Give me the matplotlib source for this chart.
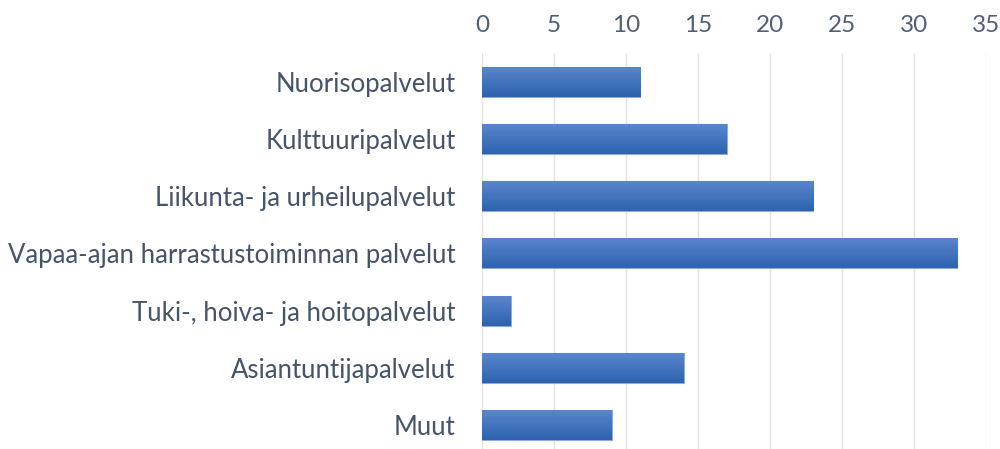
import numpy as np
import matplotlib
matplotlib.use("Agg")
import matplotlib.pyplot as plt
from matplotlib.colors import LinearSegmentedColormap

categories = [
    "Nuorisopalvelut",
    "Kulttuuripalvelut",
    "Liikunta- ja urheilupalvelut",
    "Vapaa-ajan harrastustoiminnan palvelut",
    "Tuki-, hoiva- ja hoitopalvelut",
    "Asiantuntijapalvelut",
    "Muut",
]
values = [11, 17, 23, 33, 2, 14, 9]
xticks = [0, 5, 10, 15, 20, 25, 30, 35]

plt.rcParams['font.family'] = ['Lato', 'DejaVu Sans']

fig = plt.figure(figsize=(10, 4.49), dpi=100)
ax = fig.add_axes([0.482, (449 - 454) / 449, 0.504, 401 / 449])

ypos = np.arange(len(categories))
bar_h = 0.52
bars = ax.barh(ypos, values, height=bar_h, color="#3A6CBC", edgecolor="#8FAADC", linewidth=0.8, zorder=2)

# vertical gradient inside each bar
grad_cmap = LinearSegmentedColormap.from_list("g", ["#5A85CC", "#2D63AF"])
grad = np.linspace(0, 1, 64).reshape(-1, 1)
for y, v in zip(ypos, values):
    ax.imshow(grad, cmap=grad_cmap, aspect="auto",
              extent=(0, v, y + bar_h / 2, y - bar_h / 2), zorder=2.5)

ax.set_xlim(0, 35)
ax.set_ylim(6.5, -0.5)
ax.set_xticks(xticks)
ax.xaxis.tick_top()
ax.set_yticks(ypos)
ax.set_yticklabels(categories)
ax.tick_params(axis="x", length=0, pad=12, labelsize=17.5, labelcolor="#4F5F78")
ax.tick_params(axis="y", length=0, pad=19, labelsize=18.5, labelcolor="#44546A")
ax.grid(axis="x", color="#E3E3E3", linewidth=1, zorder=0)
ax.set_axisbelow(True)
for s in ax.spines.values():
    s.set_visible(False)

fig.savefig("out.png", dpi=100)
